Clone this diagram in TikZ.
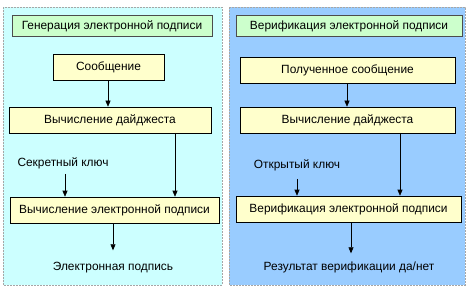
\documentclass[tikz,border=0pt]{standalone}
\usepackage{fontspec}
\setmainfont{Liberation Sans}
\usetikzlibrary{arrows.meta,positioning}
\definecolor{genbg}{RGB}{204,255,255}
\definecolor{verbg}{RGB}{153,204,255}
\definecolor{titlefill}{RGB}{204,255,204}
\definecolor{boxfill}{RGB}{255,255,204}

\begin{document}
\begin{tikzpicture}[x=1pt,y=-1pt,font=\fontsize{11.9}{14}\selectfont,
    panel/.style={draw=gray!70,dash pattern=on 2pt off 1pt},
    titlebox/.style={draw=black!70,fill=titlefill,minimum height=21pt,inner sep=0pt},
    stepbox/.style={draw,line width=0.6pt,fill=boxfill,minimum height=26pt,inner sep=0pt},
    arr/.style={line width=0.6pt,-{Triangle[width=5pt,length=6pt]}},
    lbl/.style={inner sep=2pt}]
  \useasboundingbox (0,0) rectangle (468,291);
  % panels
  \draw[panel,fill=genbg] (3,7) rectangle (222,285);
  \draw[panel,fill=verbg] (229,7) rectangle (465,285);
  % generation
  \node[titlebox,minimum width=200pt] (gentitle) at (112,26) {Генерация электронной подписи};
  \node[stepbox,minimum width=111pt] (msg) at (108.5,67.5) {Сообщение};
  \node[stepbox,minimum width=202pt] (dig1) at (110,120) {Вычисление дайджеста};
  \node[stepbox,minimum width=209pt] (sign) at (114.5,210) {Вычисление электронной подписи};
  \node[lbl] (skey) at (63,163) {Секретный ключ};
  \node[lbl] (sig) at (113,268) {Электронная подпись};
  \coordinate (d1) at (175,133);
  \draw[arr] (msg.south -| 108,0) -- (dig1.north -| 108,0);
  \draw[arr] (d1) -- (sign.north -| d1);
  \draw[arr] (skey.south -| 65,0) ++(0,3) -- (sign.north -| 65,0);
  \draw[arr] (sign.south -| 113,0) -- ++(0,27);
  % verification
  \node[titlebox,minimum width=226pt] (vertitle) at (349,26) {Верификация электронной подписи};
  \node[stepbox,minimum width=215pt] (rmsg) at (347.5,70) {Полученное сообщение};
  \node[stepbox,minimum width=215pt] (dig2) at (347.5,120) {Вычисление дайджеста};
  \node[stepbox,minimum width=225pt] (verify) at (348.5,209) {Верификация электронной подписи};
  \node[lbl] (pkey) at (297,165) {Открытый ключ};
  \node[lbl] (result) at (349,267) {Результат верификации да/нет};
  \coordinate (d2) at (400,133);
  \draw[arr] (rmsg.south -| 347,0) -- (dig2.north -| 347,0);
  \draw[arr] (d2) -- (verify.north -| d2);
  \draw[arr] (pkey.south) ++(0,6) -- (verify.north -| pkey.south);
  \draw[arr] (verify.south -| 351,0) -- ++(0,31);
\end{tikzpicture}
\end{document}
